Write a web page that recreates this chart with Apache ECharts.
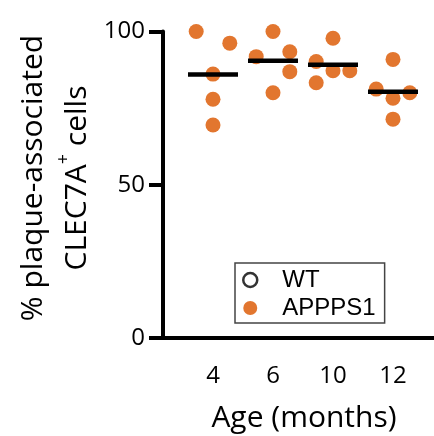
<!DOCTYPE html>
<html>
<head>
<meta charset="utf-8">
<script src="https://cdn.jsdelivr.net/npm/echarts@6/dist/echarts.min.js"></script>
<style>
  html, body { margin: 0; padding: 0; background: #fff; }
  #chart { width: 434px; height: 436px; }
</style>
</head>
<body>
<div id="chart"></div>
<script>
// Age groups (months) on the x axis
const ages = ['4', '6', '10', '12'];

// % plaque-associated CLEC7A+ cells per animal, APPPS1 mice
const appps1_4 = [100.0, 96.2, 86.1, 77.9, 69.5];
const appps1_6 = [100.0, 91.8, 93.4, 86.9, 80.0];
const appps1_10 = [97.8, 90.2, 87.2, 87.2, 83.3];
const appps1_12 = [90.9, 81.2, 80.0, 78.2, 71.4];

// column slot of each dot inside its group (-1 left, 0 centre, 1 right)
const slots_4 = [-1, 1, 0, 0, 0];
const slots_6 = [0, -1, 1, 1, 0];
const slots_10 = [0, -1, 0, 1, -1];
const slots_12 = [0, -1, 1, 0, 0];

// y axis ticks
const yTicks = [0, 50, 100];

const groups = [appps1_4, appps1_6, appps1_10, appps1_12];
const slots = [slots_4, slots_6, slots_10, slots_12];
const dodge = 0.28; // horizontal spread of the dots, in category units

const dots = [];
groups.forEach((vals, gi) => {
  vals.forEach((v, k) => dots.push([gi + slots[gi][k] * dodge, v]));
});
const means = groups.map((vals, gi) => [gi, vals.reduce((a, b) => a + b, 0) / vals.length]);

const ORANGE = '#E2762F';
const AXIS_FONT = '"Open Sans", "Noto Sans", sans-serif';

const chart = echarts.init(document.getElementById('chart'), null, { renderer: 'canvas' });
chart.setOption({
  animation: false,
  backgroundColor: '#fff',
  grid: { left: 163, right: 0, top: 31.5, bottom: 98, containLabel: false },
  xAxis: {
    type: 'value',
    min: -0.8333,
    max: 3.6833,
    splitLine: { show: false },
    axisLine: { show: true, onZero: false, lineStyle: { color: '#000', width: 4 } },
    axisTick: { show: false },
    axisLabel: {
      customValues: ages.map((_, i) => i),
      formatter: v => ages[Math.round(v)],
      color: '#000',
      fontFamily: AXIS_FONT,
      fontSize: 24,
      margin: 26
    }
  },
  yAxis: {
    type: 'value',
    min: yTicks[0],
    max: yTicks[yTicks.length - 1],
    interval: 50,
    splitLine: { show: false },
    axisLine: { show: true, onZero: false, lineStyle: { color: '#000', width: 4 } },
    axisTick: { show: true, length: 14, lineStyle: { color: '#000', width: 4 } },
    axisLabel: {
      color: '#000',
      fontFamily: AXIS_FONT,
      fontSize: 24,
      margin: 18
    }
  },
  legend: {
    orient: 'vertical',
    left: 235,
    top: 263,
    padding: [5, 9, 3, 7],
    borderColor: '#444',
    borderWidth: 1.5,
    icon: 'circle',
    itemWidth: 14,
    itemHeight: 14,
    itemGap: 4,
    textStyle: {
      color: '#000',
      fontFamily: '"Liberation Sans", Arial, sans-serif',
      fontSize: 24,
      padding: [0, 0, 0, 20]
    },
    data: [
      { name: 'WT', itemStyle: { color: '#fff', borderColor: '#000', borderWidth: 2.5 } },
      { name: 'APPPS1', itemStyle: { color: ORANGE, borderWidth: 0 } }
    ]
  },
  series: [
    {
      name: 'WT',
      type: 'scatter',
      data: [],
      symbolSize: 12,
      itemStyle: { color: '#fff', borderColor: '#000', borderWidth: 2.5 }
    },
    {
      name: 'APPPS1',
      type: 'scatter',
      data: dots,
      symbol: 'circle',
      symbolSize: 15,
      itemStyle: { color: ORANGE, opacity: 1 },
      z: 2
    },
    {
      name: 'mean',
      type: 'scatter',
      data: means,
      symbol: 'rect',
      symbolSize: [50, 4.5],
      itemStyle: { color: '#000', opacity: 1 },
      z: 3
    }
  ],
  graphic: [
    {
      type: 'text',
      x: 55,
      y: 178,
      rotation: Math.PI / 2,
      style: {
        text: '% plaque-associated\nCLEC7A{sup|+} cells',
        font: '30px "Open Sans", sans-serif',
        fill: '#000',
        align: 'center',
        verticalAlign: 'middle',
        lineHeight: 44,
        rich: {
          sup: { font: '18px "Open Sans", sans-serif', fill: '#000', verticalAlign: 'top', padding: [0, 0, 14, 0] }
        }
      }
    },
    {
      type: 'text',
      x: 304,
      y: 418,
      style: {
        text: 'Age (months)',
        font: '30px "Open Sans", sans-serif',
        fill: '#000',
        align: 'center',
        verticalAlign: 'middle'
      }
    }
  ]
});
</script>
</body>
</html>
